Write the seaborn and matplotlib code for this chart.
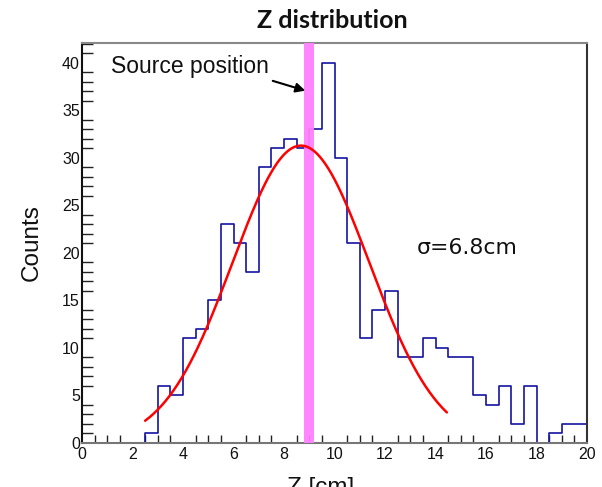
import numpy as np
import pandas as pd
import matplotlib
matplotlib.use("Agg")
import matplotlib.pyplot as plt
from matplotlib.ticker import MultipleLocator
import seaborn as sns

# Histogram: 0.5 cm bins from 0 to 20 cm
bin_width = 0.5
bin_range = (0, 20)
counts = [0, 0, 0, 0, 0, 1, 6, 5, 11, 12,
          15, 23, 21, 18, 29, 31, 32, 31, 33, 40,
          30, 21, 11, 14, 16, 9, 9, 11, 10, 9,
          9, 5, 4, 6, 2, 6, 0, 1, 2, 2]

# Gaussian fit result and its range
fit_amp, fit_mean, fit_sigma = 31.3, 8.67, 2.71
fit_range = (2.5, 14.45)

# Source position band (cm)
source_band = (8.78, 9.2)

sns.set_theme(style="white")
plt.rcParams["font.family"] = ["Liberation Sans", "DejaVu Sans"]

fig = plt.figure(figsize=(6.02, 4.87), dpi=100)
ax = fig.add_axes([82 / 602, 1 - 443 / 487, 505 / 602, 400 / 487])

centers = bin_range[0] + bin_width * (np.arange(len(counts)) + 0.5)
hist_df = pd.DataFrame({"z": centers, "n": counts})
sns.histplot(data=hist_df, x="z", weights="n", binwidth=bin_width,
             binrange=bin_range, element="step", fill=False,
             color="#1414a0", linewidth=1.2, ax=ax, zorder=2)

ax.axvspan(*source_band, color="#ff80ff", alpha=0.95, lw=0, zorder=3)

zfit = np.linspace(fit_range[0], fit_range[1], 300)
gauss = fit_amp * np.exp(-0.5 * ((zfit - fit_mean) / fit_sigma) ** 2)
sns.lineplot(x=zfit, y=gauss, color="#ff0000", linewidth=1.8, ax=ax, zorder=4)

ax.set_xlim(0, 20)
ax.set_ylim(0, 42.1)
ax.xaxis.set_major_locator(MultipleLocator(2))
ax.xaxis.set_minor_locator(MultipleLocator(0.5))
ax.yaxis.set_major_locator(MultipleLocator(5))
ax.yaxis.set_minor_locator(MultipleLocator(1))
ax.tick_params(axis="both", which="both", direction="in", colors="#222222",
               labelsize=11.5, labelcolor="#111111")
ax.tick_params(axis="x", which="major", length=12, width=1, pad=3, top=False)
ax.tick_params(axis="x", which="minor", length=6, width=1, bottom=True)
ax.tick_params(axis="y", which="major", length=16, width=1, pad=1.5, right=False)
ax.tick_params(axis="y", which="minor", length=8, width=1, left=True)

for side, col in {"left": "#111111", "bottom": "#777777",
                  "top": "#888888", "right": "#333333"}.items():
    ax.spines[side].set_visible(True)
    ax.spines[side].set_color(col)
    ax.spines[side].set_linewidth(1.5)

ax.set_ylabel("Counts", fontsize=17.5, color="#111111")
ax.yaxis.set_label_coords(-0.077, 0.5)
ax.set_xlabel("Z [cm]", fontsize=17.5, color="#111111")
ax.xaxis.set_label_coords(0.473, -0.085)

ax.text(1.15, 38.9, "Source position", fontsize=16.5, color="#111111",
        ha="left", va="baseline")
ax.annotate("", xy=(8.95, 37.0), xytext=(7.45, 38.2),
            arrowprops=dict(arrowstyle="-|>", color="black", lw=1.5,
                            mutation_scale=14), zorder=5)
ax.text(13.25, 19.85, "σ=6.8cm", fontsize=15.8, family=["DejaVu Sans"],
        color="#111111", ha="left", va="baseline")

fig.text(332 / 602, 1 - 28 / 487, "Z distribution", fontsize=18,
         fontweight="bold", family=["Lato", "DejaVu Sans"],
         ha="center", va="baseline", color="#111111")

fig.savefig("out.png", dpi=100)
